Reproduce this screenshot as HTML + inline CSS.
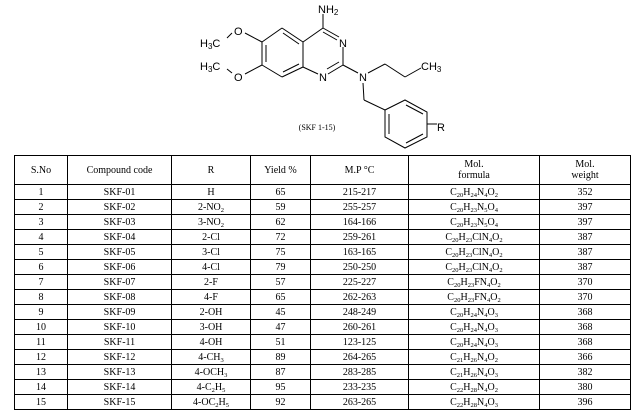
<!DOCTYPE html>
<html><head><meta charset="utf-8"><style>
body{margin:0;width:637px;height:411px;background:#fff;overflow:hidden;position:relative;font-family:"Liberation Serif",serif;}
svg{position:absolute;left:0;top:0}
table{position:absolute;left:14px;top:155px;border-collapse:collapse;font-size:10px;color:#000;table-layout:fixed;width:616px}
td{border:1px solid #000;text-align:center;padding:0;height:14px;line-height:11px;white-space:nowrap}
tr.h td{height:28px}
sub{font-size:6.5px;vertical-align:-2px;line-height:0}
</style></head><body>
<svg width="637" height="155" font-family="Liberation Sans, sans-serif" font-size="11">
<g stroke="#000" stroke-width="1" fill="none">
<line x1="323" y1="14" x2="323" y2="28"/>
<line x1="323" y1="28" x2="339" y2="37"/><line x1="323" y1="32" x2="337" y2="40"/>
<line x1="343" y1="47" x2="343" y2="65"/>
<line x1="343" y1="65" x2="328" y2="74"/><line x1="339" y1="62" x2="327" y2="69"/>
<line x1="318" y1="74" x2="303" y2="67"/>
<line x1="303" y1="67" x2="303" y2="42"/>
<line x1="303" y1="42" x2="323" y2="28"/>
<line x1="303" y1="42" x2="282" y2="28"/><line x1="299" y1="44" x2="283" y2="33"/>
<line x1="282" y1="28" x2="262" y2="42"/>
<line x1="262" y1="42" x2="262" y2="65"/><line x1="266" y1="45" x2="266" y2="62"/>
<line x1="262" y1="65" x2="282" y2="77"/>
<line x1="282" y1="77" x2="303" y2="67"/><line x1="283" y1="72" x2="299" y2="64"/>
<line x1="262" y1="42" x2="245" y2="33"/><line x1="232" y1="33" x2="227" y2="38"/>
<line x1="262" y1="65" x2="245" y2="74"/><line x1="232" y1="73" x2="227" y2="69"/>
<line x1="343" y1="65" x2="358" y2="73"/>
<line x1="368" y1="73" x2="385" y2="64"/><line x1="385" y1="64" x2="405" y2="77"/><line x1="405" y1="77" x2="421" y2="68"/>
<line x1="363" y1="83" x2="364" y2="100"/><line x1="364" y1="100" x2="385" y2="110"/>
<polygon points="385,110 405,100 427,112 427,137 405,148 385,137"/>
<line x1="389" y1="114" x2="389" y2="134"/><line x1="406" y1="105" x2="423" y2="114"/><line x1="406" y1="143" x2="423" y2="134"/>
<line x1="427" y1="124" x2="437" y2="124"/>
</g>
<text x="318" y="13">NH<tspan font-size="8" dy="2">2</tspan></text>
<text x="339" y="47">N</text>
<text x="319" y="81">N</text>
<text x="359" y="81">N</text>
<text x="234" y="35">O</text>
<text x="234" y="81">O</text>
<text x="200" y="47">H<tspan font-size="8" dy="2">3</tspan><tspan dy="-2">C</tspan></text>
<text x="200" y="70">H<tspan font-size="8" dy="2">3</tspan><tspan dy="-2">C</tspan></text>
<text x="421" y="70">CH<tspan font-size="8" dy="2">3</tspan></text>
<text x="437" y="131">R</text>
<text x="317" y="130" font-family="Liberation Serif, serif" font-size="8" text-anchor="middle">(SKF 1-15)</text>
</svg>
<table>
<colgroup><col style="width:53px"><col style="width:104px"><col style="width:79px"><col style="width:60px"><col style="width:98px"><col style="width:131px"><col style="width:91px"></colgroup>
<tr class="h"><td>S.No</td><td>Compound code</td><td>R</td><td>Yield %</td><td>M.P °C</td><td>Mol.<br>formula</td><td>Mol.<br>weight</td></tr>
<tr><td>1</td><td>SKF-01</td><td>H</td><td>65</td><td>215-217</td><td>C<sub>20</sub>H<sub>24</sub>N<sub>4</sub>O<sub>2</sub></td><td>352</td></tr>
<tr><td>2</td><td>SKF-02</td><td>2-NO<sub>2</sub></td><td>59</td><td>255-257</td><td>C<sub>20</sub>H<sub>23</sub>N<sub>5</sub>O<sub>4</sub></td><td>397</td></tr>
<tr><td>3</td><td>SKF-03</td><td>3-NO<sub>2</sub></td><td>62</td><td>164-166</td><td>C<sub>20</sub>H<sub>23</sub>N<sub>5</sub>O<sub>4</sub></td><td>397</td></tr>
<tr><td>4</td><td>SKF-04</td><td>2-Cl</td><td>72</td><td>259-261</td><td>C<sub>20</sub>H<sub>23</sub>ClN<sub>4</sub>O<sub>2</sub></td><td>387</td></tr>
<tr><td>5</td><td>SKF-05</td><td>3-Cl</td><td>75</td><td>163-165</td><td>C<sub>20</sub>H<sub>23</sub>ClN<sub>4</sub>O<sub>2</sub></td><td>387</td></tr>
<tr><td>6</td><td>SKF-06</td><td>4-Cl</td><td>79</td><td>250-250</td><td>C<sub>20</sub>H<sub>23</sub>ClN<sub>4</sub>O<sub>2</sub></td><td>387</td></tr>
<tr><td>7</td><td>SKF-07</td><td>2-F</td><td>57</td><td>225-227</td><td>C<sub>20</sub>H<sub>23</sub>FN<sub>4</sub>O<sub>2</sub></td><td>370</td></tr>
<tr><td>8</td><td>SKF-08</td><td>4-F</td><td>65</td><td>262-263</td><td>C<sub>20</sub>H<sub>23</sub>FN<sub>4</sub>O<sub>2</sub></td><td>370</td></tr>
<tr><td>9</td><td>SKF-09</td><td>2-OH</td><td>45</td><td>248-249</td><td>C<sub>20</sub>H<sub>24</sub>N<sub>4</sub>O<sub>3</sub></td><td>368</td></tr>
<tr><td>10</td><td>SKF-10</td><td>3-OH</td><td>47</td><td>260-261</td><td>C<sub>20</sub>H<sub>24</sub>N<sub>4</sub>O<sub>3</sub></td><td>368</td></tr>
<tr><td>11</td><td>SKF-11</td><td>4-OH</td><td>51</td><td>123-125</td><td>C<sub>20</sub>H<sub>24</sub>N<sub>4</sub>O<sub>3</sub></td><td>368</td></tr>
<tr><td>12</td><td>SKF-12</td><td>4-CH<sub>3</sub></td><td>89</td><td>264-265</td><td>C<sub>21</sub>H<sub>26</sub>N<sub>4</sub>O<sub>2</sub></td><td>366</td></tr>
<tr><td>13</td><td>SKF-13</td><td>4-OCH<sub>3</sub></td><td>87</td><td>283-285</td><td>C<sub>21</sub>H<sub>26</sub>N<sub>4</sub>O<sub>3</sub></td><td>382</td></tr>
<tr><td>14</td><td>SKF-14</td><td>4-C<sub>2</sub>H<sub>5</sub></td><td>95</td><td>233-235</td><td>C<sub>22</sub>H<sub>28</sub>N<sub>4</sub>O<sub>2</sub></td><td>380</td></tr>
<tr><td>15</td><td>SKF-15</td><td>4-OC<sub>2</sub>H<sub>5</sub></td><td>92</td><td>263-265</td><td>C<sub>22</sub>H<sub>28</sub>N<sub>4</sub>O<sub>3</sub></td><td>396</td></tr>
</table>
</body></html>
